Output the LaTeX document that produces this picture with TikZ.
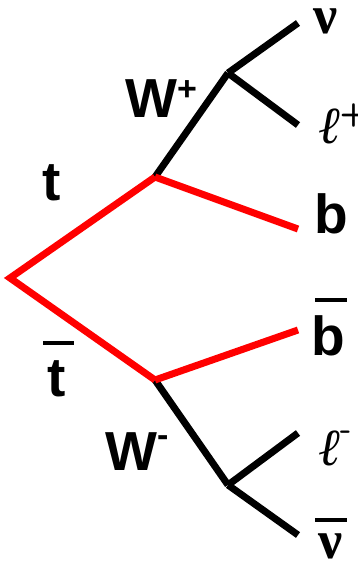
\documentclass[tikz,border=0pt]{standalone}
\usepackage{fontspec}
\setmainfont{Liberation Sans}
\newfontfamily\serifb{Liberation Serif}
\begin{document}
\begin{tikzpicture}[x=1pt,y=-1pt,
  lep/.style={line width=7pt,black},
  qrk/.style={line width=7pt,red},
  bigl/.style={font=\fontsize{55}{55}\selectfont\bfseries,inner sep=0pt},
  serl/.style={font=\fontsize{52}{52}\selectfont\serifb,inner sep=0pt},
  barline/.style={line width=4pt,black}]
\useasboundingbox (0,0) rectangle (358,563);
% vertices
\coordinate (O) at (10,278);
\coordinate (T) at (155,177);
\coordinate (B) at (155,380);
\coordinate (Wp) at (228,73);
\coordinate (Wm) at (228,485);
\coordinate (bend) at (298,229);
\coordinate (bbend) at (298,330);
\coordinate (nuend) at (298,23);
\coordinate (lpend) at (298,125);
\coordinate (lmend) at (298,433);
\coordinate (nubend) at (298,535);
% W lines
\draw[lep] (T) -- (Wp);
\draw[lep] (Wp) -- (nuend);
\draw[lep] (Wp) -- (lpend);
\draw[lep] (B) -- (Wm);
\draw[lep] (Wm) -- (lmend);
\draw[lep] (Wm) -- (nubend);
% quarks
\draw[qrk,line join=miter] (T) -- (O) -- (B);
\draw[qrk] (T) -- (bend);
\draw[qrk] (B) -- (bbend);
% labels
\node[bigl,anchor=base] (tl) at (52,200) {t};
\node[bigl,anchor=base] (tbl) at (57,396) {t};
\draw[barline] (43,343) -- (74,343);
\node[bigl,anchor=base] (bl) at (331,233) {b};
\node[bigl,anchor=base] (bbl) at (328,355) {b};
\draw[barline] (315,300) -- (347,300);
\node[bigl,anchor=base west] (wpl) at (125,117) {W\raisebox{0.3em}{\fontsize{34}{34}\selectfont +}};
\node[bigl,anchor=base west] (wml) at (105,470) {W\raisebox{0.42em}{\fontsize{34}{34}\selectfont -}};
\node[serl,anchor=base,font=\fontsize{54}{54}\selectfont\serifb\bfseries] (nul) at (326,33) {ν};
\node[serl,anchor=base west] (lpl) at (318,143) {\itshape ℓ\raisebox{0.38em}{\fontsize{32}{32}\selectfont\upshape\sffamily\bfseries +}};
\node[serl,anchor=base west] (lml) at (318,465) {\itshape ℓ\raisebox{0.5em}{\fontsize{32}{32}\selectfont\upshape\sffamily\bfseries -}};
\node[serl,anchor=base,font=\fontsize{54}{54}\selectfont\serifb\bfseries] (nubl) at (331,558) {ν};
\draw[barline] (315,520) -- (347,520);
\end{tikzpicture}
\end{document}
